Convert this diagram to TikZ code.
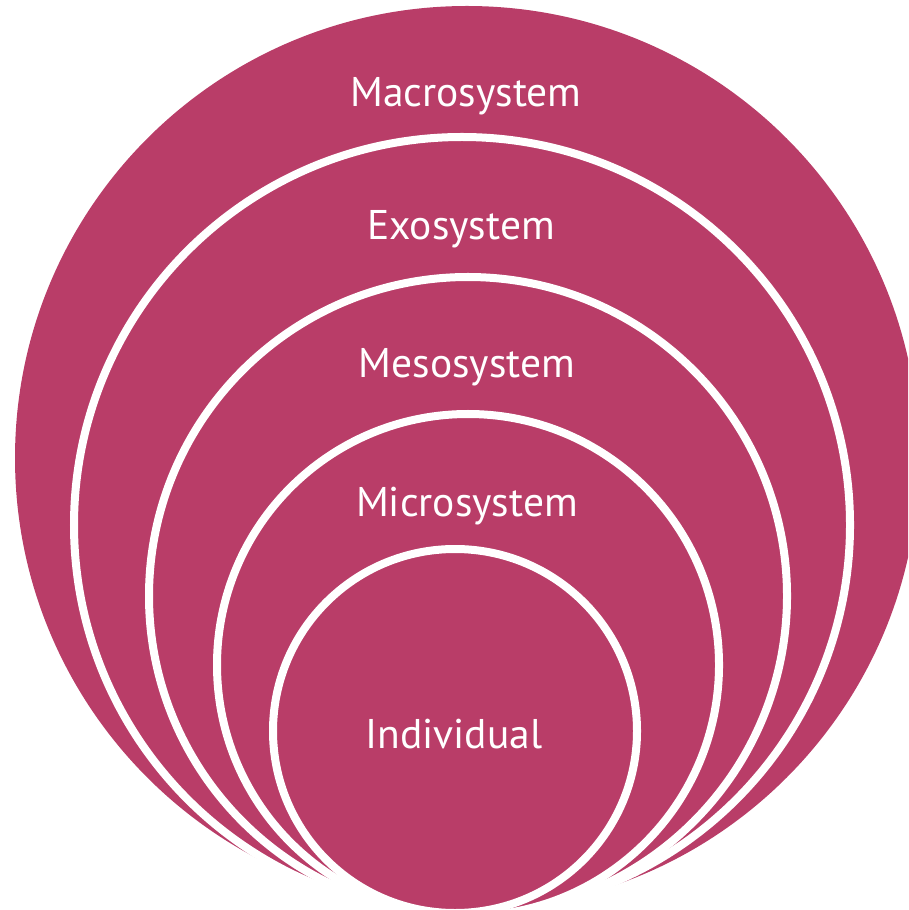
\documentclass[tikz,border=0pt]{standalone}
\usepackage{fontspec}
\setmainfont{PT Sans}
\definecolor{ringpink}{RGB}{185,61,104}
\begin{document}
\begin{tikzpicture}[x=0.01cm,y=-0.01cm,
  ring/.style={fill=ringpink,draw=white,line width=0.08cm},
  lbl/.style={text=white,font=\fontsize{11.8}{14}\selectfont,anchor=base,inner sep=0pt}]
\useasboundingbox (0,0) rectangle (908,910);
\begin{scope}
\clip (0,0) rectangle (908,910);
\fill[ringpink] (467,458) circle[radius=452];
\draw[ring] (462,525) circle[radius=388];
\draw[ring] (468,596) circle[radius=319];
\draw[ring] (468,665) circle[radius=251];
\draw[ring] (455,731) circle[radius=182];
\end{scope}
\node[lbl] (macro) at (466,107) {Macrosystem};
\node[lbl] (exo) at (461,240) {Exosystem};
\node[lbl] (meso) at (467,378) {Mesosystem};
\node[lbl] (micro) at (467,516) {Microsystem};
\node[lbl] (indiv) at (454,748) {Individual};
\end{tikzpicture}
\end{document}
